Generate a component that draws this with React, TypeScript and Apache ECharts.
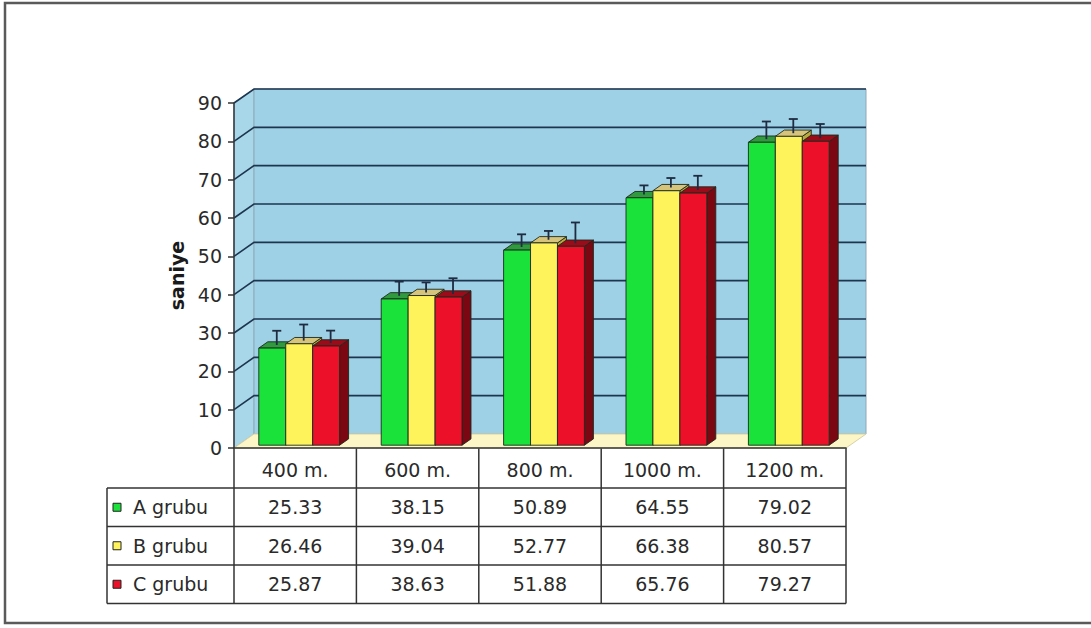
import { useEffect, useRef } from "react";
import * as echarts from "echarts";

// Distances run and group names
const categories = ["400 m.", "600 m.", "800 m.", "1000 m.", "1200 m."];
const groupNames = ["A grubu", "B grubu", "C grubu"];

// Mean times (saniye) per group
const groupA = [25.33, 38.15, 50.89, 64.55, 79.02];
const groupB = [26.46, 39.04, 52.77, 66.38, 80.57];
const groupC = [25.87, 38.63, 51.88, 65.76, 79.27];

// Error bar lengths (saniye)
const errA = [3.7, 3.7, 3.3, 2.4, 4.6];
const errB = [4.2, 2.6, 2.3, 2.5, 3.7];
const errC = [3.2, 4.1, 5.4, 3.7, 3.7];

const yTicks = [0, 10, 20, 30, 40, 50, 60, 70, 80, 90];

const groupValues = [groupA, groupB, groupC];
const groupErrors = [errA, errB, errC];

// Face colours: front, top, side
const frontColors = ["#1ae23a", "#fff35c", "#ec1129"];
const topColors = ["#2f9a3e", "#d7c47c", "#9a0c1a"];
const sideColors = ["#138a26", "#b9a83c", "#7a0712"];

// Layout
const W = 1091;
const H = 628;
const GRID_LEFT = 234;
const GRID_TOP = 103;
const GRID_W = 612;
const GRID_H = 345;
const DEPTH_X = 20; // back wall shift
const DEPTH_Y = -14;
const FRONT = 0.2; // bar front plane, fraction of depth
const BAR_DEPTH = 0.45; // bar depth, fraction of depth
const BAR_FRAC = 0.22; // bar width, fraction of category band

const TABLE_LEFT = 107;
const HEADER_H = 40;
const ROW_H = 38.5;

const FONT = "DejaVu Sans";
const TEXT = "#2a2a2a";
const LINE = "#333";

function wallsRender(params: any, api: any) {
  const cs = params.coordSys;
  const x0 = cs.x;
  const x1 = cs.x + cs.width;
  const yb = cs.y + cs.height;
  const yt = cs.y;
  const children: any[] = [];
  // side wall
  children.push({
    type: "polygon",
    shape: {
      points: [
        [x0, yb],
        [x0 + DEPTH_X, yb + DEPTH_Y],
        [x0 + DEPTH_X, yt + DEPTH_Y],
        [x0, yt],
      ],
    },
    style: { fill: "#a8d7ea", stroke: "#8fb4c4", lineWidth: 1 },
  });
  // back wall
  children.push({
    type: "rect",
    shape: {
      x: x0 + DEPTH_X,
      y: yt + DEPTH_Y,
      width: cs.width,
      height: cs.height,
    },
    style: { fill: "#9ed1e5", stroke: "#8ea9b4", lineWidth: 1 },
  });
  // floor
  children.push({
    type: "polygon",
    shape: {
      points: [
        [x0, yb],
        [x0 + DEPTH_X, yb + DEPTH_Y],
        [x1 + DEPTH_X, yb + DEPTH_Y],
        [x1, yb],
      ],
    },
    style: { fill: "#fcf6c6", stroke: "#d8d2a6", lineWidth: 1 },
  });
  // gridlines on side and back walls
  yTicks.forEach((t) => {
    if (t === 0) return;
    const y = api.coord([0, t])[1];
    children.push({
      type: "polyline",
      shape: {
        points: [
          [x0, y],
          [x0 + DEPTH_X, y + DEPTH_Y],
          [x1 + DEPTH_X, y + DEPTH_Y],
        ],
      },
      style: { fill: null, stroke: "#1e3550", lineWidth: 1.6 },
    });
  });
  return { type: "group", children };
}

function barRender(k: number) {
  return (_params: any, api: any) => {
    const i = api.value(0);
    const v = api.value(1);
    const e = api.value(2);
    const band = api.size([1, 0])[0];
    const bw = band * BAR_FRAC;
    const [cx, yBase] = api.coord([i, 0]);
    const yTop = api.coord([i, v])[1];
    const yErr = api.coord([i, v + e])[1];
    const ox = DEPTH_X * FRONT;
    const oy = DEPTH_Y * FRONT;
    const dx = DEPTH_X * BAR_DEPTH;
    const dy = DEPTH_Y * BAR_DEPTH;
    const x0 = cx + ox - 1.5 * bw + k * bw;
    const x1 = x0 + bw;
    const y0 = yBase + oy;
    const y1 = yTop + oy;
    const edge = { stroke: "#1d2a1d", lineWidth: 0.9 };
    const xm = (x0 + x1) / 2 + dx / 2;
    const ym = y1 + dy / 2;
    const yc = yErr + oy + dy / 2;
    return {
      type: "group",
      children: [
        {
          type: "polygon",
          shape: {
            points: [
              [x1, y0],
              [x1 + dx, y0 + dy],
              [x1 + dx, y1 + dy],
              [x1, y1],
            ],
          },
          style: { fill: sideColors[k], ...edge },
        },
        {
          type: "polygon",
          shape: {
            points: [
              [x0, y1],
              [x0 + dx, y1 + dy],
              [x1 + dx, y1 + dy],
              [x1, y1],
            ],
          },
          style: { fill: topColors[k], ...edge },
        },
        {
          type: "rect",
          shape: { x: x0, y: y1, width: bw, height: y0 - y1 },
          style: { fill: frontColors[k], ...edge },
        },
        {
          type: "line",
          shape: { x1: xm, y1: ym, x2: xm, y2: yc },
          style: { stroke: "#1e2b40", lineWidth: 1.8 },
        },
        {
          type: "line",
          shape: { x1: xm - 4.5, y1: yc, x2: xm + 4.5, y2: yc },
          style: { stroke: "#1e2b40", lineWidth: 1.8 },
        },
      ],
    };
  };
}

function tableGraphics() {
  const els: any[] = [];
  const band = GRID_W / categories.length;
  const gridBottom = GRID_TOP + GRID_H;
  const rowTop = gridBottom + HEADER_H;
  const tableBottom = rowTop + ROW_H * groupNames.length;
  const right = GRID_LEFT + GRID_W;
  const line = (x1: number, y1: number, x2: number, y2: number) => ({
    type: "line",
    silent: true,
    shape: { x1, y1, x2, y2 },
    style: { stroke: LINE, lineWidth: 1.5 },
  });
  // column dividers
  for (let c = 0; c <= categories.length; c++) {
    const x = GRID_LEFT + c * band;
    els.push(line(x, gridBottom, x, tableBottom));
  }
  // left border of legend column
  els.push(line(TABLE_LEFT, rowTop, TABLE_LEFT, tableBottom));
  // row separators
  for (let r = 0; r <= groupNames.length; r++) {
    const y = rowTop + r * ROW_H;
    els.push(line(TABLE_LEFT, y, right, y));
  }
  groupNames.forEach((name, r) => {
    const yc = rowTop + r * ROW_H + ROW_H / 2;
    els.push({
      type: "rect",
      silent: true,
      shape: { x: TABLE_LEFT + 6, y: yc - 4, width: 8, height: 8 },
      style: { fill: frontColors[r], stroke: "#222", lineWidth: 1 },
    });
    els.push({
      type: "text",
      silent: true,
      x: TABLE_LEFT + 26,
      y: yc,
      style: {
        text: name,
        fontFamily: FONT,
        fontSize: 19,
        fill: TEXT,
        align: "left",
        verticalAlign: "middle",
      },
    });
    groupValues[r].forEach((v, c) => {
      els.push({
        type: "text",
        silent: true,
        x: GRID_LEFT + (c + 0.5) * band,
        y: yc,
        style: {
          text: v.toFixed(2),
          fontFamily: FONT,
          fontSize: 19,
          fill: TEXT,
          align: "center",
          verticalAlign: "middle",
        },
      });
    });
  });
  // outer frame
  els.push({
    type: "rect",
    silent: true,
    z: -10,
    shape: { x: 5, y: 3, width: W + 20, height: 620 },
    style: { fill: "none", stroke: "#5a5a5a", lineWidth: 2.5 },
  });
  return els;
}

export default function App() {
  const ref = useRef<HTMLDivElement>(null);
  useEffect(() => {
    if (!ref.current) return;
    const chart = echarts.init(ref.current, undefined, { renderer: "svg" });
    chart.setOption({
      animation: false,
      backgroundColor: "#ffffff",
      grid: {
        left: GRID_LEFT,
        top: GRID_TOP,
        width: GRID_W,
        height: GRID_H,
        containLabel: false,
      },
      xAxis: {
        type: "category",
        data: categories,
        z: 5,
        axisLine: { show: true, lineStyle: { color: LINE, width: 1.5 } },
        axisTick: { show: false },
        axisLabel: {
          margin: 12,
          fontFamily: FONT,
          fontSize: 19,
          color: TEXT,
        },
        splitLine: { show: false },
      },
      yAxis: {
        type: "value",
        min: 0,
        max: 90,
        interval: 10,
        z: 5,
        name: "saniye",
        nameLocation: "middle",
        nameRotate: 90,
        nameGap: 45,
        nameTextStyle: {
          fontFamily: FONT,
          fontWeight: "bold",
          fontSize: 19,
          color: "#1a1a1a",
        },
        axisLine: { show: true, lineStyle: { color: LINE, width: 1.5 } },
        axisTick: { show: true, length: 6, lineStyle: { color: LINE, width: 1.5 } },
        axisLabel: {
          margin: 12,
          fontFamily: FONT,
          fontSize: 19,
          color: TEXT,
        },
        splitLine: { show: false },
      },
      series: [
        {
          type: "custom",
          name: "walls",
          z: 0,
          silent: true,
          renderItem: wallsRender,
          data: [[0, 0]],
          encode: { x: 0, y: 1 },
        },
        ...groupNames.map((name, k) => ({
          type: "custom",
          name,
          z: 2,
          renderItem: barRender(k),
          data: categories.map((_, i) => [i, groupValues[k][i], groupErrors[k][i]]),
          encode: { x: 0, y: 1 },
        })),
      ],
      graphic: tableGraphics(),
    });
    return () => chart.dispose();
  }, []);
  return (
    <div
      ref={ref}
      style={{ position: "fixed", left: 0, top: 0, width: W, height: H, background: "#fff" }}
    />
  );
}
